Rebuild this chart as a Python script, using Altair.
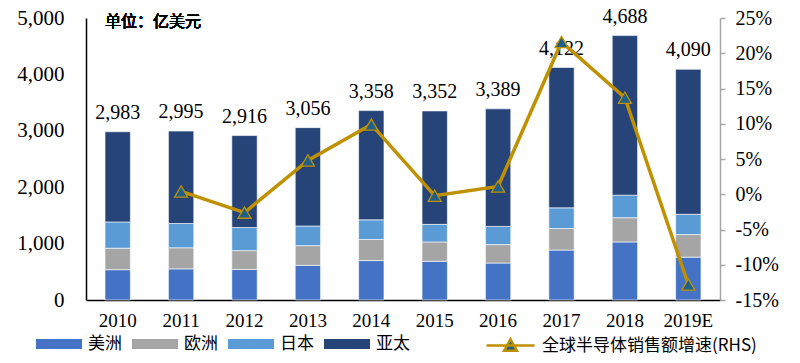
import altair as alt
import pandas as pd

years = ["2010", "2011", "2012", "2013", "2014", "2015", "2016", "2017", "2018", "2019E"]
regions = ["美洲", "欧洲", "日本", "亚太"]
americas = [537, 552, 542, 615, 699, 687, 655, 885, 1029, 760]
europe = [381, 374, 333, 349, 374, 343, 327, 383, 430, 400]
japan = [466, 430, 411, 348, 348, 311, 323, 366, 400, 360]
totals = [2983, 2995, 2916, 3056, 3358, 3352, 3389, 4122, 4688, 4090]
growth = [None, 0.4, -2.6, 4.8, 9.9, -0.2, 1.1, 21.6, 13.7, -12.8]
region_colors = ["#4472C4", "#A5A5A5", "#5B9BD5", "#264478"]
line_name = "全球半导体销售额增速(RHS)"

rows = []
for i, y in enumerate(years):
    asia = totals[i] - americas[i] - europe[i] - japan[i]
    for k, (r, v) in enumerate(zip(regions, [americas[i], europe[i], japan[i], asia])):
        rows.append({"year": y, "region": r, "value": v, "ord": k})
bars_df = pd.DataFrame(rows)
tot_df = pd.DataFrame({"year": years, "total": totals})
line_df = pd.DataFrame({"year": years[1:], "growth": growth[1:], "series": line_name})

SERIF = "Liberation Serif"
CJK = "Noto Sans CJK SC"

x_enc = alt.X("year:N", sort=years,
              scale=alt.Scale(paddingInner=0.6, paddingOuter=0.3),
              axis=alt.Axis(title=None, labelAngle=0, labelFont=SERIF, labelFontSize=19,
                            labelColor="#000", domainColor="#000", domainWidth=1.5,
                            ticks=False, labelPadding=11))

bars = alt.Chart(bars_df).mark_bar(stroke="white", strokeWidth=0.6).encode(
    x=x_enc,
    y=alt.Y("value:Q", stack="zero",
            scale=alt.Scale(domain=[0, 5000]),
            axis=alt.Axis(title=None, values=[0, 1000, 2000, 3000, 4000, 5000], format=",d",
                          labelFont=SERIF, labelFontSize=21, labelColor="#000",
                          domainColor="#000", domainWidth=1.5, ticks=False,
                          labelPadding=22, grid=False, labelOverlap=False)),
    color=alt.Color("region:N", sort=regions,
                    scale=alt.Scale(domain=regions, range=region_colors),
                    legend=alt.Legend(title=None, orient="none", legendX=-50, legendY=303,
                                      direction="horizontal",
                                      symbolType="M-1,-0.22H1V0.22H-1Z", symbolSize=2116,
                                      symbolStrokeWidth=0,
                                      labelFont=CJK, labelFontSize=17, labelColor="#000",
                                      labelOffset=6, columnPadding=10)),
    order=alt.Order("ord:Q", sort="ascending"),
)

labels = alt.Chart(tot_df).mark_text(font=SERIF, fontSize=20, color="#000", dy=-13,
                                     baseline="alphabetic").encode(
    x=alt.X("year:N", sort=years),
    y=alt.Y("total:Q"),
    text=alt.Text("total:Q", format=",d"),
)

unit = alt.Chart(tot_df).mark_text(font=CJK, fontSize=16, fontWeight="normal", color="#000",
                                   align="left", baseline="middle").encode(
    x=alt.value(19), y=alt.value(4), text=alt.value("单位：亿美元"))

left = alt.layer(bars, labels, unit)

right_axis = alt.Axis(title=None, orient="right", values=[-15, -10, -5, 0, 5, 10, 15, 20, 25],
                      labelExpr="datum.value + '%'", labelFont=SERIF, labelFontSize=20,
                      labelColor="#000", domainColor="#A6A6A6", domainWidth=1.5,
                      tickColor="#A6A6A6", tickSize=5, tickWidth=1.5, labelPadding=10,
                      grid=False, labelOverlap=False)

line = alt.Chart(line_df).mark_line(strokeWidth=3.5).encode(
    x=alt.X("year:N", sort=years),
    y=alt.Y("growth:Q", scale=alt.Scale(domain=[-15, 25]), axis=right_axis),
    color=alt.Color("series:N", scale=alt.Scale(domain=[line_name], range=["#BF9000"]),
                    legend=alt.Legend(title=None, orient="none", legendX=399, legendY=302,
                                      symbolType="M-1,0H1M-0.27,0.22L0,-0.26L0.27,0.22Z",
                                      symbolSize=2304, symbolStrokeWidth=2.5,
                                      symbolFillColor="#1F5F8B",
                                      labelFont=CJK, labelFontSize=17, labelColor="#000",
                                      labelOffset=6, labelLimit=400)),
)

pts = alt.Chart(line_df).mark_point(shape="triangle-up", filled=True, color="#1F5F8B",
                                    fill="#1F5F8B", stroke="#BF9000", strokeWidth=1.3,
                                    size=170, opacity=1).encode(
    x=alt.X("year:N", sort=years),
    y=alt.Y("growth:Q", scale=alt.Scale(domain=[-15, 25]), axis=right_axis),
)

right = alt.layer(line, pts)

chart = alt.layer(left, right).resolve_scale(y="independent", color="independent").properties(
    width=634, height=282,
    autosize=alt.AutoSizeParams(type="none"),
    padding={"left": 78, "top": 10, "right": 72, "bottom": 55},
).configure_view(strokeWidth=0)

chart.save("out.html", embed_options={"renderer": "svg", "actions": False})
